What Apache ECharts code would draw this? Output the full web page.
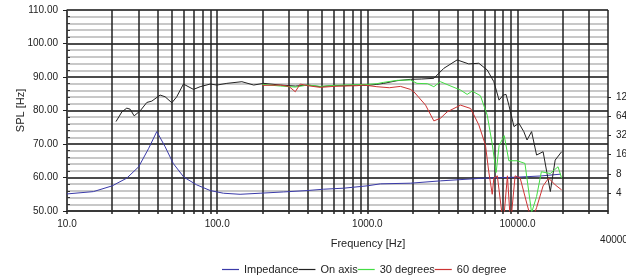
<!DOCTYPE html>
<html>
<head>
<meta charset="utf-8">
<script src="https://cdn.jsdelivr.net/npm/echarts@6/dist/echarts.min.js"></script>
<style>
  html, body { margin: 0; padding: 0; background: #fff; }
  #main { width: 626px; height: 279px; }
</style>
</head>
<body>
<div id="main"></div>
<script>
// frequency grid (vertical lines) and labels
var gridFreq = [10, 20, 30, 40, 50, 60, 70, 80, 90,
    100, 200, 300, 400, 500, 600, 700, 800, 900,
    1000, 2000, 3000, 4000, 5000, 6000, 7000, 8000, 9000,
    10000, 20000, 30000, 40000];
var freqLabels = [10, 100, 1000, 10000, 40000];
var ohmLabels = [4, 8, 16, 32, 64, 128];

// impedance (ohm, right axis)
var impFreq = [10, 15, 20, 25, 30, 35, 39.6, 45, 51, 60, 73, 90, 110, 142, 193, 277, 396, 511, 695, 995, 1222, 1935, 3066, 5961, 9950, 14230, 19360];
var impOhm = [3.87, 4.21, 5.18, 6.84, 10.3, 20.1, 36.7, 21.3, 11.6, 7.09, 5.37, 4.37, 3.97, 3.82, 3.97, 4.16, 4.37, 4.59, 4.76, 5.18, 5.57, 5.7, 6.2, 6.84, 7.09, 7.4, 7.9];

// on axis SPL
var onFreq = [21.2, 23.2, 25, 26.3, 28, 30.7, 34, 36.7, 41.7, 45, 49.9, 53.8, 59.6, 69.5, 77, 89.8, 99.5, 116, 146, 175, 204, 263, 331, 400, 486, 600, 695, 850, 1000, 1157, 1284, 1578, 1935, 2300, 2770, 3230, 3960, 4730, 5520, 6280, 6950, 7530, 8030, 8380, 8750, 9460, 10200, 11000, 11560, 12400, 13380, 14790, 16520, 17800, 19650];
var onDb = [76.7, 79.6, 80.7, 80.4, 78.4, 79.9, 82.4, 82.8, 84.6, 84.1, 82.3, 84.1, 87.9, 86.3, 87.1, 87.9, 87.6, 88.1, 88.6, 87.6, 88.1, 87.6, 87.3, 87.6, 87.1, 87.5, 87.4, 87.6, 87.5, 87.8, 88.1, 88.9, 89.3, 89.4, 89.6, 92.6, 95.1, 93.9, 94.1, 92.1, 88.6, 83.1, 84.6, 84.8, 81.6, 75.2, 76.2, 73.7, 71.2, 73.7, 66.7, 67.7, 55.8, 65.2, 67.7];

// 30 degrees
var d30Freq = [200, 263, 331, 400, 486, 600, 695, 850, 1000, 1157, 1284, 1578, 1935, 2140, 2510, 2770, 3066, 3500, 4170, 4620, 4990, 5660, 6280, 6780, 7200, 7530, 8150, 8750, 9950, 11200, 12400, 13380, 14400, 16500, 18600, 19650];
var d30Db = [87.8, 87.3, 87.0, 87.6, 87.2, 87.5, 87.6, 87.7, 87.8, 88.0, 88.4, 89.0, 89.1, 88.1, 88.0, 87.1, 88.6, 87.5, 86.1, 84.8, 85.8, 84.4, 78.6, 70.0, 61.5, 69.5, 72.5, 65.0, 65.0, 64.2, 49.5, 54.3, 61.7, 61.2, 63.2, 59.8];

// 60 degree
var d60Freq = [200, 263, 300, 331, 357, 400, 486, 600, 695, 850, 946, 1157, 1400, 1660, 1935, 2040, 2440, 2770, 3066, 3400, 4170, 4870, 5520, 6110, 6430, 6780, 6950, 7330, 8030, 8560, 8980, 9630, 10410, 11560, 12400, 13380, 14790, 16100, 17800, 19650];
var d60Db = [87.5, 87.6, 87.2, 85.6, 87.9, 87.4, 86.9, 87.2, 87.3, 87.4, 87.6, 87.1, 86.8, 87.2, 86.3, 85.6, 81.6, 76.9, 77.7, 79.6, 81.6, 80.6, 75.7, 69.7, 61.7, 55.0, 59.8, 60.5, 46, 60.5, 46, 60.5, 59.8, 52, 47, 51, 57.5, 59.8, 57.8, 56.3];

function pairs(xs, ys) {
    return xs.map(function (x, i) { return [x, ys[i]]; });
}

var option = {
    animation: false,
    backgroundColor: '#fff',
    textStyle: { fontFamily: 'Liberation Sans, Arial, sans-serif' },
    grid: { left: 67, right: 18, top: 10, bottom: 68, outerBoundsMode: 'none' },
    legend: {
        left: 222,
        top: 264,
        padding: 0,
        icon: 'rect',
        itemWidth: 17,
        itemHeight: 1.2,
        itemGap: 0,
        textStyle: { fontSize: 11, color: '#222' },
        data: ['Impedance', 'On axis', '30 degrees', '60 degree']
    },
    xAxis: {
        type: 'log',
        logBase: 10,
        min: 10,
        max: 40000,
        name: 'Frequency [Hz]',
        nameLocation: 'middle',
        nameGap: 27,
        nameMoveOverlap: false,
        nameTextStyle: { fontSize: 11, color: '#222', padding: [0, 0, 0, 61] },
        axisLine: { lineStyle: { color: '#333', width: 1.5 } },
        axisTick: { customValues: gridFreq, length: 3, lineStyle: { color: '#222', width: 1.5 } },
        axisLabel: {
            customValues: freqLabels,
            fontSize: 10,
            color: '#222',
            margin: 8,
            formatter: function (v) {
                return v === 40000 ? '{o|40000}' : v.toFixed(1);
            },
            rich: { o: { fontSize: 10, color: '#222', padding: [16, 0, 0, 12] } }
        },
        splitLine: { show: true, lineStyle: { color: '#222', width: 1.5 } }
    },
    yAxis: [{
        type: 'value',
        min: 50,
        max: 110,
        interval: 10,
        name: 'SPL [Hz]',
        nameLocation: 'middle',
        nameGap: 41,
        nameMoveOverlap: false,
        nameTextStyle: { fontSize: 11, color: '#222' },
        axisLine: { show: true, lineStyle: { color: '#444', width: 1.5 } },
        axisTick: { show: true, length: 4, lineStyle: { color: '#222' } },
        minorTick: { show: true, splitNumber: 5, length: -3, lineStyle: { color: '#333' } },
        axisLabel: {
            fontSize: 10, color: '#222', margin: 9,
            formatter: function (v) { return v.toFixed(2); }
        },
        splitLine: { show: true, lineStyle: { color: '#111', width: 1.5 } },
        minorSplitLine: { show: true, lineStyle: { color: '#c8c8c8', width: 2 } }
    }, {
        type: 'log',
        logBase: 2,
        min: 2.09,
        max: 2957,
        position: 'right',
        axisLine: { show: false },
        axisTick: { show: true, customValues: ohmLabels, length: 3, lineStyle: { color: '#222' } },
        axisLabel: {
            customValues: ohmLabels, fontSize: 10, color: '#222', margin: 8,
            formatter: function (v) { return String(Math.round(v)); }
        },
        splitLine: { show: false }
    }],
    series: [{
        name: 'Impedance',
        type: 'line',
        yAxisIndex: 1,
        symbol: 'none',
        color: '#3a3aa8',
        lineStyle: { width: 1 },
        data: pairs(impFreq, impOhm)
    }, {
        name: 'On axis',
        type: 'line',
        symbol: 'none',
        color: '#222',
        lineStyle: { width: 1 },
        data: pairs(onFreq, onDb)
    }, {
        name: '30 degrees',
        type: 'line',
        symbol: 'none',
        color: '#44dd44',
        lineStyle: { width: 1 },
        data: pairs(d30Freq, d30Db)
    }, {
        name: '60 degree',
        type: 'line',
        symbol: 'none',
        color: '#cc3333',
        lineStyle: { width: 1 },
        data: pairs(d60Freq, d60Db)
    }]
};

var myChart = echarts.init(document.getElementById('main'));
myChart.setOption(option);
</script>
</body>
</html>
